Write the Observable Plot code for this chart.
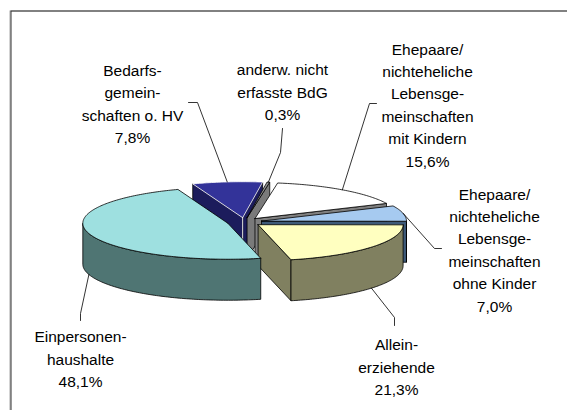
<!DOCTYPE html>
<html>
<head>
<meta charset="utf-8">
<script src="https://cdn.jsdelivr.net/npm/d3@7"></script>
<script src="https://cdn.jsdelivr.net/npm/@observablehq/plot@0.6"></script>
<style>
  html, body { margin: 0; padding: 0; background: #fff; }
  #chart { width: 567px; height: 410px; overflow: hidden; position: relative; }
</style>
</head>
<body>
<div id="chart"></div>
<script>
// ---------- data ----------
const categories = [
  "Ehepaare/\nnichteheliche\nLebensge-\nmeinschaften\nmit Kindern",
  "Ehepaare/\nnichteheliche\nLebensge-\nmeinschaften\nohne Kinder",
  "Allein-\nerziehende",
  "Einpersonen-\nhaushalte",
  "Bedarfs-\ngemein-\nschaften o. HV",
  "anderw. nicht\nerfasste BdG"
];
const shares = [15.6, 7.0, 21.3, 48.1, 7.8, 0.3];
const percentLabels = shares.map(v => v.toFixed(1).replace(".", ",") + "%");

// ---------- styles ----------
const topColors  = ["#FFFFFF", "#A6CAF0", "#FFFFC0", "#9EE0E0", "#333399", "#969696"];
const sideColors = ["#808080", "#3E5A78", "#808060", "#4F7573", "#1C1C5C", "#7A7A7A"];
const edgeColors = ["#000000", "#000000", "#000000", "#000000", "#FFFFFF", "#000000"];

// ---------- layout ----------
const W = 567, H = 410;
const CX = 244, CY = 221.5, RX = 145, RY = 36, DEPTH = 41, EXPLODE = 0.12;
const START = 9 * Math.PI / 180;
const labelX = [427, 494, 396, 80, 132, 282];
const labelY = [103, 248, 365, 357, 102, 90];
const elbowX = [369, 434, 394, 80, 197, 280];
const elbowY = [103, 248, 317, 313, 102, 152];
const endX   = [376, 441, 394, 80, 188, 282];
const endY   = [103, 248, 325, 320, 102, 128];

// ---------- geometry from data ----------
const arcs = d3.pie().sort(null).startAngle(START).endAngle(START + 2 * Math.PI)(shares);
const slices = arcs.map((a, i) => {
  const mid = (a.startAngle + a.endAngle) / 2;
  return {
    i, a0: a.startAngle, a1: a.endAngle, mid,
    cx: CX + EXPLODE * RX * Math.sin(mid),
    cy: CY - EXPLODE * RY * Math.cos(mid)
  };
});
const pt = (s, a, r = 1) => [s.cx + RX * r * Math.sin(a), s.cy - RY * r * Math.cos(a)];
const down = p => [p[0], p[1] + DEPTH];
const DEG = Math.PI / 180;

// visible side faces (vertical extrusions of a ground polyline)
const faces = [];
function addFace(s, g, kind) {
  const xs = g.map(p => p[0]);
  faces.push({s, g, kind, minx: d3.min(xs), maxx: d3.max(xs), key: d3.mean(g, p => p[1])});
}
for (const s of slices) {
  if (Math.sin(s.a0) < -1e-6) addFace(s, [[s.cx, s.cy], pt(s, s.a0)], "radial");
  if (Math.sin(s.a1) > 1e-6) addFace(s, [[s.cx, s.cy], pt(s, s.a1)], "radial");
  const lo = Math.max(s.a0, Math.PI / 2), hi = Math.min(s.a1, 3 * Math.PI / 2);
  if (hi > lo) {
    const n = Math.max(1, Math.ceil((hi - lo) / DEG));
    addFace(s, d3.range(n + 1).map(j => pt(s, lo + (hi - lo) * j / n)), "outer");
  }
}
function fAt(g, x) {
  let best = null;
  for (let i = 0; i < g.length - 1; i++) {
    const [x0, y0] = g[i], [x1, y1] = g[i + 1];
    if (x0 !== x1 && (x - x0) * (x - x1) <= 0) {
      const y = y0 + (y1 - y0) * (x - x0) / (x1 - x0);
      best = best == null ? y : Math.max(best, y);
    }
  }
  return best;
}
function relation(A, B) {
  const lo = Math.max(A.minx, B.minx), hi = Math.min(A.maxx, B.maxx);
  if (hi - lo <= 0.05) return 0;
  let score = 0;
  for (let k = 1; k <= 24; k++) {
    const x = lo + (hi - lo) * k / 25;
    const fa = fAt(A.g, x), fb = fAt(B.g, x);
    if (fa == null || fb == null || Math.abs(fa - fb) >= DEPTH) continue;
    score += Math.sign(fa - fb);
  }
  return Math.sign(score);
}
const before = faces.map(() => new Set());
for (let i = 0; i < faces.length; i++)
  for (let j = i + 1; j < faces.length; j++) {
    const r = relation(faces[i], faces[j]);
    if (r < 0) before[j].add(i);
    else if (r > 0) before[i].add(j);
  }
const order = [], placed = new Set();
while (order.length < faces.length) {
  const rest = faces.map((f, i) => i).filter(i => !placed.has(i));
  let ready = rest.filter(i => [...before[i]].every(j => placed.has(j)));
  if (!ready.length) ready = rest;
  const pick = d3.least(ready, i => faces[i].key);
  order.push(pick); placed.add(pick);
}

const shapes = [];
let id = 0;
function pushPoly(pts, fill, stroke, sw) {
  const k = id++;
  for (const [x, y] of pts) shapes.push({id: k, x, y, fill, stroke, sw});
}
const lastOfSlice = new Map();
order.forEach((fi, n) => lastOfSlice.set(faces[fi].s.i, n));
order.forEach((fi, n) => {
  const f = faces[fi];
  const pts = [...f.g, ...f.g.map(down).reverse(), f.g[0]];
  pushPoly(pts, sideColors[f.s.i], "#000", 0.8);
  if (edgeColors[f.s.i] !== "#000000" && lastOfSlice.get(f.s.i) === n) {
    const c = [f.s.cx, f.s.cy];
    pushPoly([c, down(c)], "none", edgeColors[f.s.i], 0.9);
  }
});
// tops
for (const s of slices) {
  const n = Math.max(2, Math.ceil((s.a1 - s.a0) / DEG));
  const pts = [[s.cx, s.cy]];
  for (let j = 0; j <= n; j++) pts.push(pt(s, s.a0 + (s.a1 - s.a0) * j / n));
  pts.push([s.cx, s.cy]);
  pushPoly(pts, topColors[s.i], edgeColors[s.i], 0.8);
}

// leader lines
const leaders = [];
slices.forEach(s => {
  const front = Math.cos(s.mid) < 0;
  const a = front ? down(pt(s, s.mid)) : pt(s, s.mid);
  leaders.push({k: s.i, x: a[0], y: a[1]});
  leaders.push({k: s.i, x: elbowX[s.i], y: elbowY[s.i]});
  leaders.push({k: s.i, x: endX[s.i], y: endY[s.i]});
});

const labels = categories.map((c, i) => ({x: labelX[i], y: labelY[i], text: c + "\n" + percentLabels[i]}));

const chart = Plot.plot({
  width: W, height: H,
  margin: 0,
  x: {domain: [0, W], range: [0, W], axis: null},
  y: {domain: [0, H], range: [0, H], axis: null},
  color: {type: "identity"},
  style: {background: "white", fontFamily: "'Liberation Sans', Arial, sans-serif"},
  marks: [
    Plot.frame({stroke: "#A8A8A8", insetLeft: 9.5, insetTop: 10.5, insetRight: -20, insetBottom: -20}),
    Plot.frame({stroke: "#303030", insetLeft: 10.5, insetTop: 10.5, insetRight: -20, insetBottom: -20}),
    Plot.line(shapes, {x: "x", y: "y", z: "id", fill: "fill", stroke: "stroke", strokeWidth: "sw",
      curve: "linear", strokeLinejoin: "round"}),
    Plot.line(leaders, {x: "x", y: "y", z: "k", stroke: "#000", strokeWidth: 0.8, curve: "linear"}),
    Plot.text(labels, {x: "x", y: "y", text: "text", fontSize: 15.5, lineHeight: 1.45,
      textAnchor: "middle", fill: "#000"})
  ]
});
document.getElementById("chart").appendChild(chart);
</script>
</body>
</html>
